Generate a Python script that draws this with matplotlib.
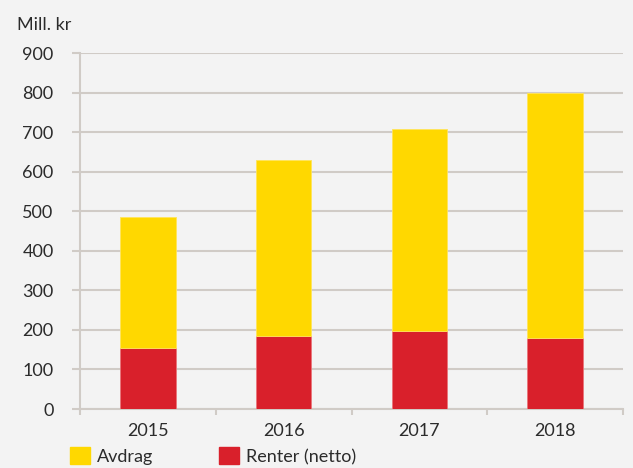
import matplotlib.pyplot as plt
from matplotlib.patches import Patch

# data
years = ["2015", "2016", "2017", "2018"]
renter = [154, 184, 197, 179]
avdrag = [331, 445, 511, 620]
y_ticks = [0, 100, 200, 300, 400, 500, 600, 700, 800, 900]

bg = "#f3f3f3"
grid_col = "#d0cbc6"
yellow = "#ffd800"
red = "#d9202b"
txt = "#2b2b2b"
fs = 13

plt.rcParams["font.family"] = ["Lato", "DejaVu Sans"]

fig = plt.figure(figsize=(6.33, 4.68), dpi=100, facecolor=bg)
ax = fig.add_axes([80 / 633, 1 - 409 / 468, 543 / 633, 356 / 468], facecolor=bg)

x = range(len(years))
ax.bar(x, renter, width=0.41, color=red, edgecolor="#e9757a", linewidth=0.6, zorder=3)
ax.bar(x, avdrag, bottom=renter, width=0.41, color=yellow, edgecolor="#ffe45a",
       linewidth=0.6, zorder=3)

ax.set_xlim(-0.5, len(years) - 0.5)
ax.set_ylim(0, 900)
ax.set_yticks(y_ticks)
ax.set_yticklabels([str(v) for v in y_ticks])
ax.yaxis.grid(True, color=grid_col, linewidth=1.5, zorder=0)

# category boundary ticks on x, labels in the middle
ax.set_xticks([i - 0.5 for i in range(len(years) + 1)])
ax.set_xticklabels([])
ax.set_xticks(list(x), minor=True)
ax.set_xticklabels(years, minor=True)
ax.tick_params(axis="x", which="major", length=4, width=1.5, color=grid_col)
ax.tick_params(axis="x", which="minor", length=0, pad=10, labelsize=fs, labelcolor=txt)
ax.tick_params(axis="y", length=6, width=1.5, color=grid_col, pad=13,
               labelsize=fs, labelcolor=txt)

for s in ["top", "right"]:
    ax.spines[s].set_visible(False)
for s in ["left", "bottom"]:
    ax.spines[s].set_color(grid_col)
    ax.spines[s].set_linewidth(1.5)

fig.text(17 / 633, 1 - 25 / 468, "Mill. kr", fontsize=fs, color=txt, va="center")

handles = [Patch(color=yellow), Patch(color=red)]
fig.legend(handles, ["Avdrag", "Renter (netto)"], loc="lower left",
           bbox_to_anchor=(70 / 633, 3 / 468), ncol=2, frameon=False,
           fontsize=fs, labelcolor=txt, handlelength=1.1, handleheight=1.05,
           handletextpad=0.4, columnspacing=3.65, borderaxespad=0,
           borderpad=0)

fig.savefig("out.png", dpi=100, facecolor=bg)
